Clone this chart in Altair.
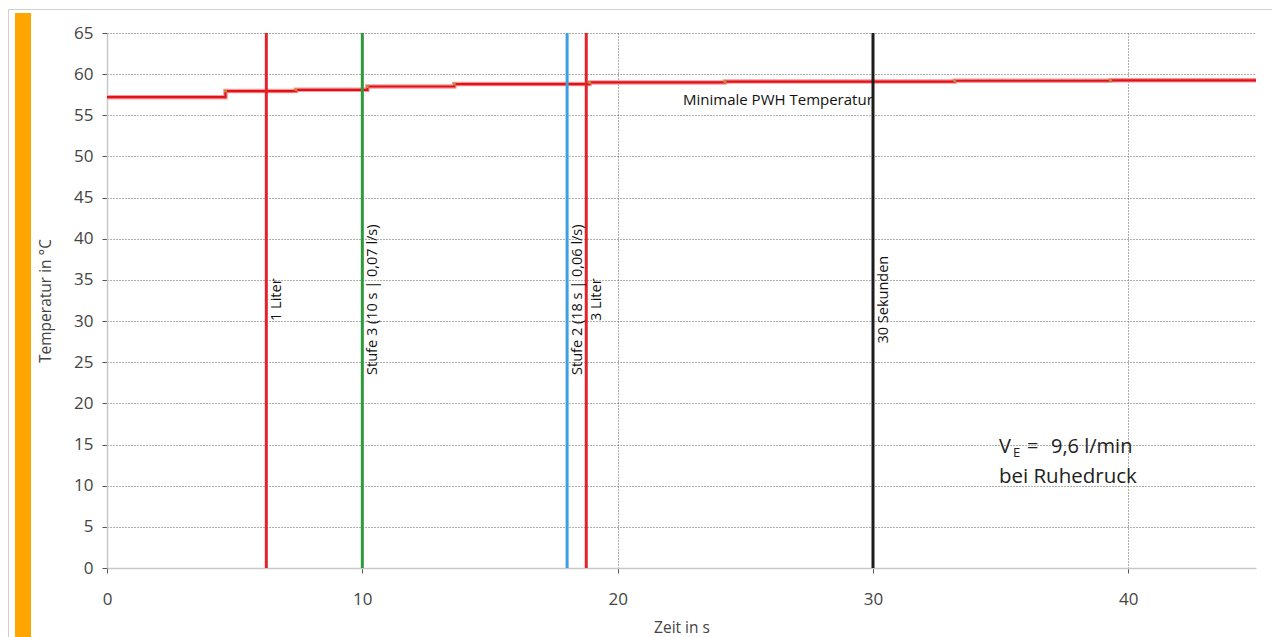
import altair as alt
import pandas as pd

# ---- data ----
step_t = [0, 4.64, 7.4, 10.2, 13.6, 18.9, 24.2, 33.2, 39.3, 45]
step_v = [57.2, 57.95, 58.1, 58.5, 58.8, 59.0, 59.1, 59.2, 59.25, 59.25]

marker_t = [6.24, 10.0, 18.02, 18.77, 30.0]
marker_label = ["1 Liter", "Stufe 3 (10 s | 0,07 l/s)", "Stufe 2 (18 s | 0,06 l/s)", "3 Liter", "30 Sekunden"]
marker_color = ["#e3232b", "#2e9b3b", "#3a9fe4", "#e3232b", "#1c1c1c"]
marker_label_v = [32.6] * 5

min_label = ["Minimale PWH Temperatur"]
min_label_t = [22.56]
min_label_v = [56.9]

ve_parts = ["V", "E", "=", "9,6 l/min", "bei Ruhedruck"]
ve_t = [34.93, 35.48, 36.03, 36.97, 34.93]
ve_v = [14.7, 14.0, 14.7, 14.7, 11.06]
ve_size = [20, 13, 20, 20, 20.5]

x_ticks = [0, 10, 20, 30, 40]
y_ticks = list(range(0, 70, 5))

W, H = 1149, 535
FONT = "Open Sans"

x_enc = alt.X(
    "t:Q",
    scale=alt.Scale(domain=[0, 45], nice=False, zero=False),
    axis=alt.Axis(
        values=x_ticks, grid=True, gridDash=[1, 2], gridColor="#5f5f5f", gridWidth=1,
        domainColor="#c8c8c8", domainWidth=1.5, tickColor="#555", tickSize=5,
        labelFontSize=17, labelColor="#444", labelFont=FONT, labelPadding=18,
        labelFlush=False,
        title="Zeit in s", titleFont=FONT, titleFontSize=15.5, titleFontWeight="normal",
        titleColor="#444", titleX=W / 2, titleY=59, titleBaseline="middle", titleAlign="center",
    ),
)
y_enc = alt.Y(
    "v:Q",
    scale=alt.Scale(domain=[0, 65], nice=False, zero=False),
    axis=alt.Axis(
        values=y_ticks, grid=True, gridDash=[1, 2], gridColor="#5f5f5f", gridWidth=1,
        domainColor="#c8c8c8", domainWidth=1.5, tickColor="#555", tickSize=5,
        labelFontSize=17, labelColor="#444", labelFont=FONT, labelPadding=9,
        title="Temperatur in °C", titleFont=FONT, titleFontSize=15.5, titleFontWeight="normal",
        titleColor="#444", titleX=-62, titleY=H / 2, titleAngle=270,
        titleBaseline="middle", titleAlign="center",
    ),
)

step_df = pd.DataFrame({"t": step_t, "v": step_v})
pts_df = pd.DataFrame({"t": step_t[1:-1], "v": step_v[1:-1]})
mk_df = pd.DataFrame({"t": marker_t, "v": marker_label_v, "label": marker_label, "color": marker_color})
min_df = pd.DataFrame({"t": min_label_t, "v": min_label_v, "label": min_label})
ve_df = pd.DataFrame({"t": ve_t, "v": ve_v, "label": ve_parts, "size": ve_size})
one = pd.DataFrame({"t": [0], "v": [0]})

border = alt.Chart(one).mark_rect(fill=None, stroke="#cfcfcf", strokeWidth=1).encode(
    x=alt.value(-98.5), x2=alt.value(1400), y=alt.value(-23.5), y2=alt.value(700)
)
orange = alt.Chart(one).mark_rect(color="#ffa500").encode(
    x=alt.value(-92), x2=alt.value(-76), y=alt.value(-20), y2=alt.value(620)
)

halo = alt.Chart(step_df).mark_line(interpolate="step-after", color="#f29a9a", strokeWidth=4.5).encode(x=x_enc, y=y_enc)
line = alt.Chart(step_df).mark_line(interpolate="step-after", color="#e3101a", strokeWidth=2.2).encode(x=x_enc, y=y_enc)
pts = alt.Chart(pts_df).mark_circle(size=10, color="#b8943a", opacity=1).encode(x=x_enc, y=y_enc)

min_text = alt.Chart(min_df).mark_text(
    align="left", baseline="middle", fontSize=15, font=FONT, color="#111"
).encode(x=x_enc, y=y_enc, text="label:N")

rules = alt.Chart(mk_df).mark_rule(strokeWidth=3).encode(
    x=x_enc, color=alt.Color("color:N", scale=None)
)
rule_text = alt.Chart(mk_df).mark_text(
    angle=270, align="center", baseline="middle", dy=11, fontSize=14.5, font=FONT, color="#111"
).encode(x=x_enc, y=y_enc, text="label:N")

ve_text = alt.Chart(ve_df).mark_text(
    align="left", baseline="middle", font=FONT, color="#222"
).encode(x=x_enc, y=y_enc, text="label:N", size=alt.Size("size:Q", scale=None))

chart = alt.layer(
    border, orange, halo, line, pts, min_text, rules, rule_text, ve_text
).properties(
    width=W, height=H,
    autosize=alt.AutoSizeParams(type="none"),
    padding={"left": 99, "top": 25, "right": 16, "bottom": 69},
    background="white",
).configure_view(stroke=None)

chart.save("out.html", embed_options={"renderer": "svg", "actions": False})
